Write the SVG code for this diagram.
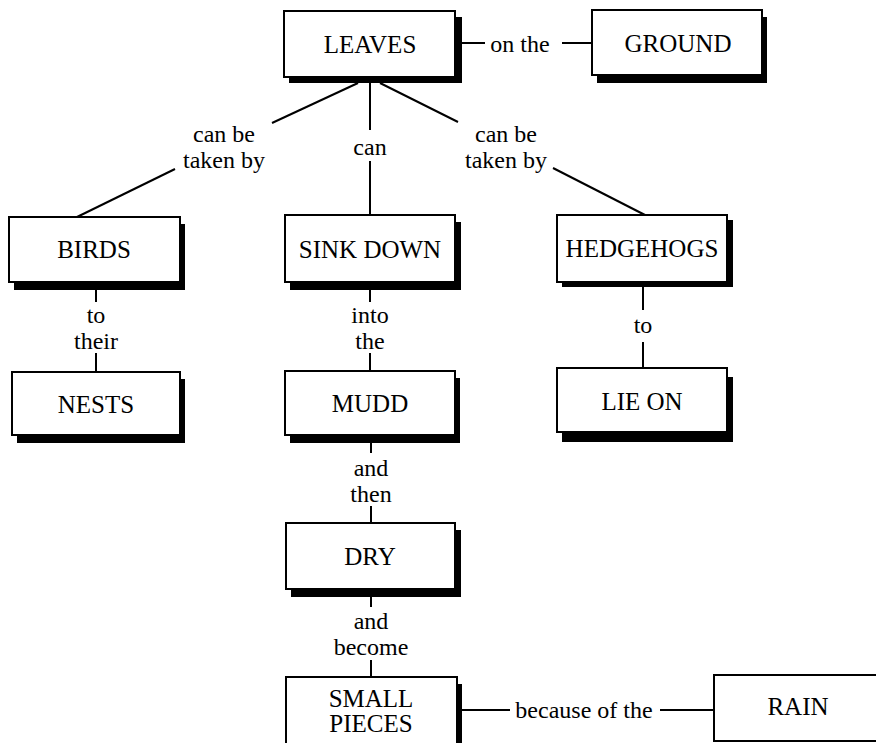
<svg xmlns="http://www.w3.org/2000/svg" width="876" height="743" viewBox="0 0 876 743">
  <defs>
    <style>
      .box { fill: #ffffff; stroke: #000000; stroke-width: 2; }
      .shadow { fill: #000000; stroke: none; }
      .node-text { font-family: "Liberation Serif", "DejaVu Serif", serif; font-size: 25px; fill: #000000; text-anchor: middle; }
      .link-text { font-family: "Liberation Serif", "DejaVu Serif", serif; font-size: 24px; fill: #000000; text-anchor: middle; }
      .link { stroke: #000000; stroke-width: 2; fill: none; }
    </style>
  </defs>

  <rect width="876" height="743" fill="#ffffff"/>

  <!-- Connectors with their linking phrases -->
  <g id="connectors" font-family="Liberation Serif, DejaVu Serif, serif">
    <!-- LEAVES – on the – GROUND -->
    <line class="link" x1="462" y1="43" x2="485" y2="43"/>
    <text class="link-text" x="520" y="52">on the</text>
    <line class="link" x1="562" y1="43" x2="592" y2="43"/>

    <!-- LEAVES – can be taken by – BIRDS -->
    <line class="link" x1="358" y1="83" x2="272" y2="123"/>
    <text class="link-text" x="224" y="142">can be</text>
    <text class="link-text" x="224" y="168">taken by</text>
    <line class="link" x1="175" y1="169" x2="77" y2="217"/>

    <!-- LEAVES – can – SINK DOWN -->
    <line class="link" x1="370" y1="83" x2="370" y2="130"/>
    <text class="link-text" x="370" y="155">can</text>
    <line class="link" x1="370" y1="161" x2="370" y2="215"/>

    <!-- LEAVES – can be taken by – HEDGEHOGS -->
    <line class="link" x1="380" y1="83" x2="458" y2="122"/>
    <text class="link-text" x="506" y="142">can be</text>
    <text class="link-text" x="506" y="168">taken by</text>
    <line class="link" x1="553" y1="168" x2="645" y2="215"/>

    <!-- BIRDS – to their – NESTS -->
    <line class="link" x1="96" y1="289" x2="96" y2="302"/>
    <text class="link-text" x="96" y="323">to</text>
    <text class="link-text" x="96" y="349">their</text>
    <line class="link" x1="96" y1="353" x2="96" y2="372"/>

    <!-- SINK DOWN – into the – MUDD -->
    <line class="link" x1="370" y1="289" x2="370" y2="302"/>
    <text class="link-text" x="370" y="323">into</text>
    <text class="link-text" x="370" y="349">the</text>
    <line class="link" x1="370" y1="353" x2="370" y2="371"/>

    <!-- HEDGEHOGS – to – LIE ON -->
    <line class="link" x1="643" y1="287" x2="643" y2="310"/>
    <text class="link-text" x="643" y="333">to</text>
    <line class="link" x1="643" y1="342" x2="643" y2="368"/>

    <!-- MUDD – and then – DRY -->
    <line class="link" x1="371" y1="442" x2="371" y2="453"/>
    <text class="link-text" x="371" y="476">and</text>
    <text class="link-text" x="371" y="502">then</text>
    <line class="link" x1="371" y1="506" x2="371" y2="523"/>

    <!-- DRY – and become – SMALL PIECES -->
    <line class="link" x1="371" y1="596" x2="371" y2="607"/>
    <text class="link-text" x="371" y="629">and</text>
    <text class="link-text" x="371" y="655">become</text>
    <line class="link" x1="371" y1="660" x2="371" y2="677"/>

    <!-- SMALL PIECES – because of the – RAIN -->
    <line class="link" x1="462" y1="710" x2="510" y2="710"/>
    <text class="link-text" x="584" y="718">because of the</text>
    <line class="link" x1="660" y1="710" x2="714" y2="710"/>
  </g>

  <!-- Concept nodes: shadowed boxes -->
  <g id="node-leaves">
    <rect class="shadow" x="289" y="17" width="173" height="66"/>
    <rect class="box" x="284" y="11" width="171" height="66"/>
    <text class="node-text" x="370" y="53">LEAVES</text>
  </g>

  <g id="node-ground">
    <rect class="shadow" x="597" y="17" width="170" height="66"/>
    <rect class="box" x="592" y="10" width="170" height="65"/>
    <text class="node-text" x="678" y="52">GROUND</text>
  </g>

  <g id="node-birds">
    <rect class="shadow" x="14" y="224" width="171" height="66"/>
    <rect class="box" x="9" y="217" width="171" height="65"/>
    <text class="node-text" x="94" y="258">BIRDS</text>
  </g>

  <g id="node-sink-down">
    <rect class="shadow" x="290" y="222" width="171" height="68"/>
    <rect class="box" x="285" y="215" width="170" height="67"/>
    <text class="node-text" x="370" y="258">SINK DOWN</text>
  </g>

  <g id="node-hedgehogs">
    <rect class="shadow" x="562" y="220" width="171" height="67"/>
    <rect class="box" x="557" y="215" width="170" height="67"/>
    <text class="node-text" x="642" y="257">HEDGEHOGS</text>
  </g>

  <g id="node-nests">
    <rect class="shadow" x="17" y="379" width="168" height="64"/>
    <rect class="box" x="12" y="372" width="168" height="63"/>
    <text class="node-text" x="96" y="413">NESTS</text>
  </g>

  <g id="node-mudd">
    <rect class="shadow" x="290" y="378" width="170" height="65"/>
    <rect class="box" x="285" y="371" width="170" height="64"/>
    <text class="node-text" x="370" y="412">MUDD</text>
  </g>

  <g id="node-lie-on">
    <rect class="shadow" x="562" y="377" width="171" height="65"/>
    <rect class="box" x="557" y="368" width="170" height="64"/>
    <text class="node-text" x="642" y="410">LIE ON</text>
  </g>

  <g id="node-dry">
    <rect class="shadow" x="291" y="530" width="170" height="67"/>
    <rect class="box" x="286" y="523" width="169" height="66"/>
    <text class="node-text" x="370" y="565">DRY</text>
  </g>

  <g id="node-small-pieces">
    <rect class="shadow" x="291" y="684" width="171" height="80"/>
    <rect class="box" x="286" y="677" width="171" height="80"/>
    <text class="node-text" x="371" y="707">SMALL</text>
    <text class="node-text" x="371" y="732">PIECES</text>
  </g>

  <g id="node-rain">
    <rect class="box" x="714" y="675" width="180" height="66"/>
    <text class="node-text" x="798" y="715">RAIN</text>
  </g>
</svg>
